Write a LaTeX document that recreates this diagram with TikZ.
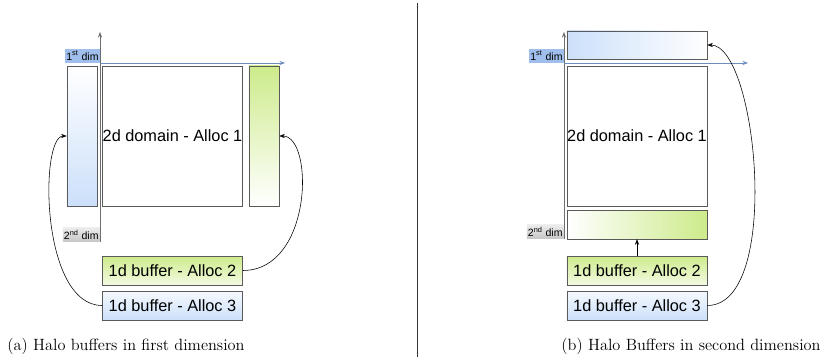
\documentclass[tikz,border=0pt]{standalone}
\usepackage{fontspec}
\newfontfamily\diagfont{Liberation Sans}
\usetikzlibrary{arrows.meta}

\definecolor{haloblue}{RGB}{204,224,250}
\definecolor{halogreen}{RGB}{205,235,139}
\definecolor{boxline}{RGB}{90,90,90}
\definecolor{axisblue}{RGB}{108,142,191}
\definecolor{dimblue}{RGB}{160,190,235}
\definecolor{axisgray}{RGB}{110,110,110}

\tikzset{
  halobox/.style={draw=boxline, inner sep=0pt, font=\diagfont\fontsize{11.6}{13}\selectfont},
  domainbox/.style={halobox, fill=white, minimum width=3.5cm, minimum height=3.5cm},
  column/.style={halobox, minimum width=0.75cm, minimum height=3.5cm},
  strip/.style={halobox, minimum width=3.5cm, minimum height=0.72cm},
  dimlabel/.style={inner xsep=0.8pt, inner ysep=0pt, minimum height=0.35cm, font=\diagfont\fontsize{7.5}{8}\selectfont},
  caption/.style={anchor=base, font=\fontsize{11.6}{13}\selectfont},
  link/.style={-{Stealth[length=4pt,width=3pt]}, black, line width=0.4pt},
  axis/.style={-{Stealth[length=4pt,width=3pt]}, line width=0.6pt}
}

\begin{document}
\begin{tikzpicture}[x=0.025cm, y=-0.025cm]
  \path[use as bounding box] (0,0) rectangle (829,362);

  % Left: halo buffers in first dimension
  \node[domainbox] (domA) at (172.5,136) {2d domain - Alloc 1};
  \node[column, top color=white, bottom color=haloblue] (haloA1) at (82,136) {};
  \node[column, top color=halogreen, bottom color=white] (haloA2) at (264,136) {};
  \node[strip, top color=halogreen, bottom color=halogreen!25] (bufA2) at (172.5,270.5) {1d buffer - Alloc 2};
  \node[strip, top color=haloblue!20, bottom color=haloblue] (bufA3) at (172.5,305.5) {1d buffer - Alloc 3};

  % Axes
  \coordinate (originA) at (100,63);
  \coordinate (dimendA) at (100,242);
  \node[dimlabel, fill=dimblue, anchor=south east] (dimA1) at (originA) {1\textsuperscript{st} dim};
  \node[dimlabel, top color=gray!15, bottom color=gray!45, anchor=south east] (dimA2) at (dimendA) {2\textsuperscript{nd} dim};
  \draw[axis, axisgray] (dimendA) -- (100,32);
  \draw[axis, axisblue] (originA) -- (285,63);

  % Copies into the halo
  \draw[link] (bufA3.west) .. controls +(-62,0) and +(-27,0) .. (haloA1.west);
  \draw[link] (bufA2.east) .. controls +(70,0) and +(35,0) .. (haloA2.east);

  \node[caption] (capA) at (126,350) {(a) Halo buffers in first dimension};

  % Separator
  \draw[line width=0.7pt, black!80] (417,3) -- (417,357);

  % Right: halo buffers in second dimension
  \node[domainbox] (domB) at (637,136) {2d domain - Alloc 1};
  \node[strip, minimum height=0.7cm, left color=haloblue, right color=white] (haloB1) at (637,45) {};
  \node[strip, left color=white, right color=halogreen] (haloB2) at (637,224.5) {};
  \node[strip, top color=halogreen, bottom color=halogreen!25] (bufB2) at (637,270.5) {1d buffer - Alloc 2};
  \node[strip, top color=haloblue!20, bottom color=haloblue] (bufB3) at (637,305.5) {1d buffer - Alloc 3};

  % Axes
  \coordinate (originB) at (564,63);
  \coordinate (dimendB) at (564,239);
  \node[dimlabel, fill=dimblue, anchor=south east] (dimB1) at (originB) {1\textsuperscript{st} dim};
  \node[dimlabel, top color=gray!15, bottom color=gray!45, anchor=south east] (dimB2) at (dimendB) {2\textsuperscript{nd} dim};
  \draw[axis, axisgray] (dimendB) -- (564,32);
  \draw[axis, axisblue] (originB) -- (748,63);

  % Copies into the halo
  \draw[link] (bufB2.north) -- (haloB2.south);
  \draw[link] (bufB3.east) .. controls +(75,0) and +(50,0) .. (haloB1.east);

  \node[caption] (capB) at (691,350) {(b) Halo Buffers in second dimension};
\end{tikzpicture}
\end{document}
